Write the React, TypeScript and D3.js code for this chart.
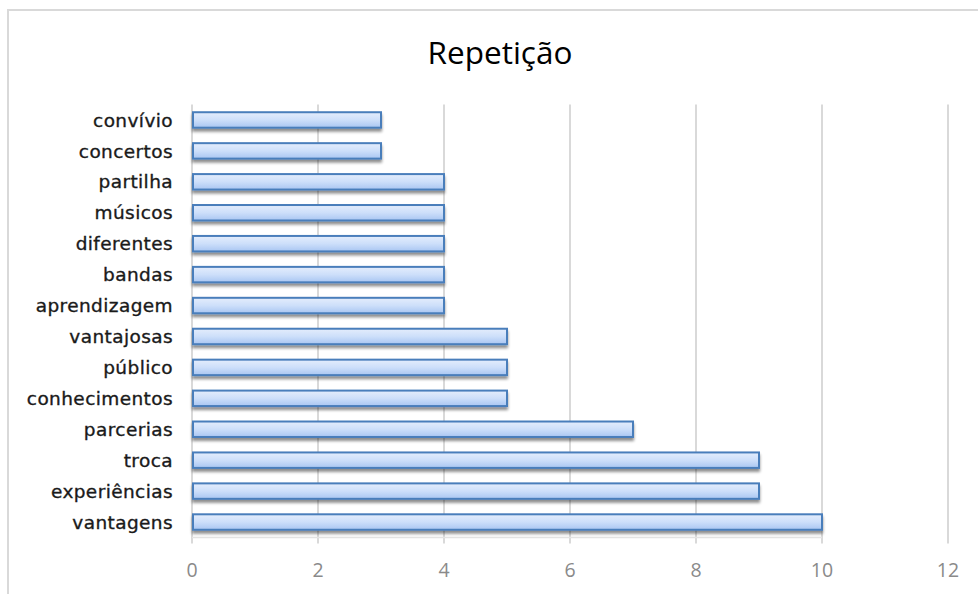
import React from 'react';
import * as d3 from 'd3';

const categories = [
  'convívio', 'concertos', 'partilha', 'músicos', 'diferentes', 'bandas', 'aprendizagem',
  'vantajosas', 'público', 'conhecimentos', 'parcerias', 'troca', 'experiências', 'vantagens',
];
const counts = [3, 3, 4, 4, 4, 4, 4, 5, 5, 5, 7, 9, 9, 10];
const xTicks = [0, 2, 4, 6, 8, 10, 12];
const title = 'Repetição';

const W = 978;
const H = 594;
const margin = { left: 192, right: 30, top: 104.5, bottom: 56.5 };

const App = () => {
  const x = d3.scaleLinear().domain([0, 12]).range([margin.left, W - margin.right]);
  const y = d3.scaleBand<string>()
    .domain(categories)
    .range([margin.top, H - margin.bottom])
    .paddingInner(0.5)
    .paddingOuter(0.25);
  const bh = y.bandwidth();

  return (
    <svg width={W} height={H} style={{ position: 'absolute', left: 0, top: 0, background: '#fff' }}>
      <defs>
        <linearGradient id="barFill" x1="0" y1="0" x2="0" y2="1">
          <stop offset="0" stopColor="#e4edfc" />
          <stop offset="0.5" stopColor="#cddffa" />
          <stop offset="1" stopColor="#a9c6f2" />
        </linearGradient>
        <filter id="shadow" x="-5%" y="-50%" width="110%" height="250%">
          <feGaussianBlur in="SourceAlpha" stdDeviation="1.6" />
          <feOffset dx="0" dy="3" result="b" />
          <feComponentTransfer><feFuncA type="linear" slope="0.45" /></feComponentTransfer>
          <feMerge>
            <feMergeNode />
            <feMergeNode in="SourceGraphic" />
          </feMerge>
        </filter>
      </defs>

      {/* chart frame */}
      <rect x={8} y={10} width={W + 10} height={H + 10} fill="none" stroke="#d9d9d9" strokeWidth={2} />

      <text x={500} y={64} textAnchor="middle" fontFamily="'Open Sans', sans-serif" fontSize={31.5} fill="#000">
        {title}
      </text>

      {/* gridlines */}
      {xTicks.map(t => (
        <line key={t} x1={x(t)} x2={x(t)} y1={margin.top} y2={H - margin.bottom + 6}
          stroke="#d9d9d9" strokeWidth={2} />
      ))}
      <line x1={margin.left} x2={x(10)} y1={H - margin.bottom} y2={H - margin.bottom} stroke="#e3e3e3" strokeWidth={1.5} />

      {/* bars */}
      {categories.map((c, i) => (
        <rect key={c} x={x(0) + 1} y={y(c)!} width={x(counts[i]) - x(0) - 1} height={bh}
          fill="url(#barFill)" stroke="#4a7ebb" strokeWidth={2} filter="url(#shadow)" />
      ))}

      {/* category labels */}
      {categories.map(c => (
        <text key={c} x={173} y={y(c)! + bh / 2} dy="0.36em" textAnchor="end"
          fontFamily="'DejaVu Sans', sans-serif" fontSize={18.5} letterSpacing={0.4} fill="#1a1a1a"
          stroke="#1a1a1a" strokeWidth={0.35}>
          {c}
        </text>
      ))}

      {/* tick labels */}
      {xTicks.map(t => (
        <text key={t} x={x(t)} y={577} textAnchor="middle" fontFamily="'Open Sans', sans-serif"
          fontSize={19.5} fill="#8a8a8a">
          {t}
        </text>
      ))}
    </svg>
  );
};

export default App;
